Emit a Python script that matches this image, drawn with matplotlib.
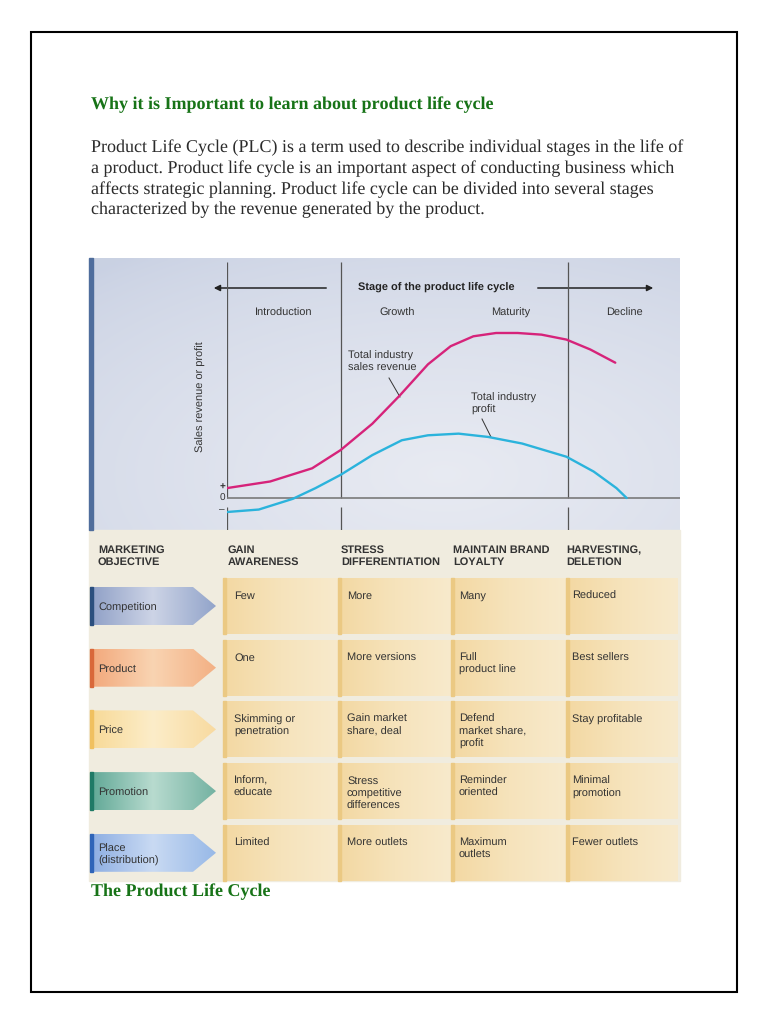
import numpy as np
import matplotlib
matplotlib.use("Agg")
import matplotlib.pyplot as plt
from matplotlib.patches import Rectangle, Polygon
from matplotlib.colors import LinearSegmentedColormap

plt.rcParams["text.hinting"] = "no_hinting"
plt.rcParams["text.hinting_factor"] = 1

# Page text
title = "Why it is Important to learn about product life cycle"
body = [
    "Product Life Cycle (PLC) is a term used to describe individual stages in the life of",
    "a product. Product life cycle is an important aspect of conducting business which",
    "affects strategic planning. Product life cycle can be divided into several stages",
    "characterized by the revenue generated by the product.",
]
caption = "The Product Life Cycle"

# Curve data (time in stage units, value relative to peak revenue)
stage_names = ["Introduction", "Growth", "Maturity", "Decline"]
stage_bounds = [0, 1, 3]
t_revenue = [0.0, 0.38, 0.75, 1.0, 1.28, 1.52, 1.77, 1.97, 2.17, 2.37, 2.56, 2.77, 2.99, 3.2, 3.42]
revenue = [0.06, 0.10, 0.18, 0.29, 0.45, 0.62, 0.81, 0.92, 0.98, 1.0, 1.0, 0.99, 0.96, 0.90, 0.82]
t_profit = [0.0, 0.28, 0.58, 0.78, 1.0, 1.28, 1.54, 1.77, 2.04, 2.30, 2.60, 2.99, 3.23, 3.43, 3.52]
profit = [-0.085, -0.07, -0.005, 0.06, 0.14, 0.26, 0.35, 0.38, 0.39, 0.37, 0.33, 0.25, 0.16, 0.06, 0.0]

# Marketing table
objectives = ["GAIN\nAWARENESS", "STRESS\nDIFFERENTIATION", "MAINTAIN BRAND\nLOYALTY", "HARVESTING,\nDELETION"]
row_labels = ["Competition", "Product", "Price", "Promotion", "Place\n(distribution)"]
competition = ["Few", "More", "Many", "Reduced"]
product = ["One", "More versions", "Full\nproduct line", "Best sellers"]
price = ["Skimming or\npenetration", "Gain market\nshare, deal", "Defend\nmarket share,\nprofit", "Stay profitable"]
promotion = ["Inform,\neducate", "Stress\ncompetitive\ndifferences", "Reminder\noriented", "Minimal\npromotion"]
place = ["Limited", "More outlets", "Maximum\noutlets", "Fewer outlets"]
table_rows = [competition, product, price, promotion, place]

serif = "Liberation Serif"
sans = "Liberation Sans"
green = "#177317"

fig = plt.figure(figsize=(7.68, 10.24), dpi=100)
page = fig.add_axes([0, 0, 1, 1])
page.set_xlim(0, 768)
page.set_ylim(1024, 0)
page.axis("off")

page.add_patch(Rectangle((31, 32), 706, 960, fill=False, ec="black", lw=1.5))

page.text(91, 105, title, family=serif, weight="bold", color=green, fontsize=12.75, va="center")
for i, line in enumerate(body):
    page.text(91, 148 + i * 20.7, line, family=serif, color="#2b2b2b", fontsize=12.63, va="center")


def hgrad(ax, x0, x1, y0, y1, colors, z=1, clip=None):
    cmap = LinearSegmentedColormap.from_list("g", colors)
    g = np.linspace(0, 1, 256).reshape(1, -1)
    im = ax.imshow(g, cmap=cmap, extent=(x0, x1, y1, y0), aspect="auto", zorder=z, interpolation="bilinear")
    if clip is not None:
        im.set_clip_path(clip)
    return im


# chart panel
yy, xx = np.mgrid[0:1:60j, 0:1:120j]
light = np.clip(1 - np.hypot((xx - 0.6) * 1.1, (yy - 0.8) * 1.0), 0, 1) ** 0.7
c0 = np.array([0.79, 0.82, 0.89])
c1 = np.array([0.91, 0.92, 0.95])
panel = c0 + (c1 - c0) * light[..., None]
page.imshow(panel, extent=(92, 680, 530, 258), aspect="auto", zorder=1, interpolation="bilinear")
page.add_patch(Rectangle((89, 258), 4, 272, color="#4f6d9c", zorder=2))

# table background
page.add_patch(Rectangle((89, 530), 591, 351, color="#f0ecdf", zorder=1))

# chart axes
px0, px1, py0, py1 = 227, 680, 258, 530
chart = fig.add_axes([px0 / 768, 1 - py1 / 1024, (px1 - px0) / 768, (py1 - py0) / 1024])
chart.set_xlim(0, 3.99)
chart.set_ylim(-0.194, 1.4545)
chart.patch.set_alpha(0)
chart.axis("off")
chart.vlines(stage_bounds, 0, 1.43, color="#555555", lw=0.9)
chart.vlines(stage_bounds, -0.194, -0.055, color="#555555", lw=0.9)
chart.hlines(0, 0, 3.99, color="#7a7a7a", lw=1.2)
chart.plot(t_revenue, revenue, color="#d6237a", lw=1.7, solid_capstyle="round")
chart.plot(t_profit, profit, color="#2bb3dc", lw=1.7, solid_capstyle="round")
for i, name in enumerate(stage_names):
    chart.text(i + 0.5, 1.12, name, family=sans, fontsize=8.2, color="#333333", ha="center", va="center")

page.annotate("", xy=(211, 288), xytext=(329, 288), zorder=5,
              arrowprops=dict(arrowstyle="-|>", color="#222222", lw=1.1, mutation_scale=9))
page.annotate("", xy=(656, 288), xytext=(535, 288), zorder=5,
              arrowprops=dict(arrowstyle="-|>", color="#222222", lw=1.1, mutation_scale=9))
page.text(436, 288, "Stage of the product life cycle", family=sans, weight="bold", fontsize=8,
          color="#222222", ha="center", va="center", zorder=5)
page.text(201, 397, "Sales revenue or profit", family=sans, fontsize=8, color="#333333",
          rotation=90, ha="center", va="center", zorder=5)
for s, yv in zip(["+", "0", "\u2013"], [487, 498, 510]):
    page.text(222, yv, s, family=sans, fontsize=7, color="#333333", ha="center", va="center", zorder=5,
              weight="bold" if s == "+" else "normal")
page.text(348, 362, "Total industry\nsales revenue", family=sans, fontsize=8.2, color="#333333",
          va="center", linespacing=1.15, zorder=5)
page.plot([389, 400], [378, 397], color="#333333", lw=0.7, zorder=5)
page.text(471, 404, "Total industry\nprofit", family=sans, fontsize=8.2, color="#333333",
          va="center", linespacing=1.15, zorder=5)
page.plot([482, 491], [419, 437], color="#333333", lw=0.7, zorder=5)

# table header
page.text(98, 556, "MARKETING\nOBJECTIVE", family=sans, weight="bold", fontsize=7.8, color="#333333",
          va="center", linespacing=1.2, zorder=5)
col_text_x = [228, 341, 453, 566]
for x, h in zip(col_text_x, objectives):
    page.text(x, 556, h, family=sans, weight="bold", fontsize=7.8, color="#333333",
              va="center", linespacing=1.2, zorder=5)

cell_edges = [223, 338, 451, 566, 678]
arrow_colors = [
    ("#2b4f7e", ["#8e9fc6", "#cdd4e6", "#92a4ca"]),
    ("#d9683a", ["#f2a77a", "#f9d4b2", "#f3b084"]),
    ("#f0c060", ["#f8d996", "#fcedc9", "#f8daa0"]),
    ("#1f7a66", ["#5fa795", "#b8dbcf", "#74b2a2"]),
    ("#2f64b8", ["#8cade2", "#c9daf3", "#98b9e7"]),
]
for r, (label, cells) in enumerate(zip(row_labels, table_rows)):
    top = 578 + r * 61.7
    bot = top + 56
    mid = top + 28
    # row label arrow
    stripe, grad = arrow_colors[r]
    poly = Polygon([(90, mid - 19), (193, mid - 19), (216, mid), (193, mid + 19), (90, mid + 19)],
                   closed=True, fc="none", ec="none", zorder=3)
    page.add_patch(poly)
    hgrad(page, 90, 216, mid - 19, mid + 19, grad, z=3, clip=poly)
    page.add_patch(Rectangle((90, mid - 19), 3, 38, color=stripe, zorder=4))
    page.text(98, mid + 2, label, family=sans, fontsize=7.8, color="#333333", va="center",
              linespacing=1.2, zorder=5)
    # cells
    for c, txt in enumerate(cells):
        x0, x1 = cell_edges[c], cell_edges[c + 1]
        hgrad(page, x0, x1, top, bot, ["#f3d8a2", "#f6e3bb", "#f8eacc"], z=2)
        page.add_patch(Rectangle((x0, top), 3, 56, color="#ebc983", zorder=3))
        page.text(col_text_x[c] + 6, top + 13, txt, family=sans, fontsize=7.8, color="#333333",
                  va="top", linespacing=1.25, zorder=5)

page.text(91, 892, caption, family=serif, weight="bold", color=green, fontsize=12.75, va="center")

fig.savefig("out.png", dpi=100)
